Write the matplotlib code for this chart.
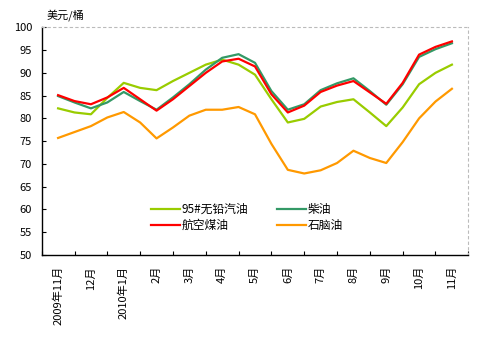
import matplotlib
matplotlib.use("Agg")
import matplotlib.pyplot as plt
import numpy as np

plt.rcParams['font.family'] = ['Noto Sans CJK SC', 'DejaVu Sans']

months = ["2009年11月", "12月", "2010年1月", "2月", "3月", "4月", "5月",
          "6月", "7月", "8月", "9月", "10月", "11月"]
# half-month readings
gasoline = [82.2, 81.3, 80.9, 84.5, 87.8, 86.7, 86.2, 88.2, 90.0, 91.8, 92.9, 91.8, 89.6,
            84.2, 79.1, 79.9, 82.6, 83.6, 84.2, 81.3, 78.3, 82.4, 87.5, 90.0, 91.8]
diesel = [84.9, 83.5, 82.2, 83.5, 85.8, 83.8, 81.9, 84.6, 87.5, 90.7, 93.3, 94.1, 92.2,
          86.0, 81.9, 83.1, 86.2, 87.7, 88.8, 86.0, 83.0, 87.5, 93.5, 95.2, 96.5]
jet = [85.1, 83.8, 83.1, 84.6, 86.7, 84.2, 81.7, 84.2, 87.1, 90.0, 92.5, 93.1, 91.4,
       85.3, 81.3, 82.8, 85.8, 87.2, 88.2, 85.7, 83.2, 87.8, 94.0, 95.7, 96.9]
naphtha = [75.7, 77.0, 78.3, 80.2, 81.4, 79.1, 75.6, 78.0, 80.6, 81.9, 81.9, 82.5, 80.9,
           74.4, 68.7, 67.9, 68.6, 70.2, 72.9, 71.3, 70.2, 74.8, 80.0, 83.7, 86.5]
names = ["95#无铅汽油", "柴油", "航空煤油", "石脑油"]
colors = ["#99CC00", "#339966", "#FF0000", "#FF9900"]

x = np.arange(len(gasoline)) * 0.5

fig = plt.figure(figsize=(4.83, 3.40), dpi=100)
ax = fig.add_axes([0.0863, 0.25, 0.8833, 0.6697])

handles = {}
for name, data, c in zip(names, [gasoline, diesel, jet, naphtha], colors):
    h, = ax.plot(x, data, color=c, lw=1.6, solid_joinstyle='round')
    handles[name] = h

ax.set_xlim(-0.5, len(months) - 0.5)
ax.set_ylim(50, 100)
ax.set_yticks(np.arange(50, 101, 5))
ax.set_xticks(np.arange(len(months)))
ax.set_xticklabels(months, rotation=90, fontsize=8)
ax.set_xticks(np.arange(len(months) + 1) - 0.5, minor=True)
ax.tick_params(axis='x', which='major', length=0, pad=8)
ax.tick_params(axis='x', which='minor', length=3, direction='in', width=0.8)
ax.tick_params(axis='y', length=3, direction='in', width=0.8, labelsize=8, pad=7)

for s in ['top', 'right']:
    ax.spines[s].set_color('#bbbbbb')
    ax.spines[s].set_linestyle((0, (2, 3)))
    ax.spines[s].set_linewidth(0.8)
for s in ['left', 'bottom']:
    ax.spines[s].set_color('black')
    ax.spines[s].set_linewidth(1.0)

order = ["95#无铅汽油", "航空煤油", "柴油", "石脑油"]
ax.legend([handles[n] for n in order], order, ncol=2, frameon=False,
          loc='lower left', bbox_to_anchor=(0.256, 0.10), fontsize=8.5,
          handlelength=2.45, handletextpad=0.15, columnspacing=2.45,
          labelspacing=0.3, borderpad=0, borderaxespad=0)

fig.text(0.097, 0.955, "美元/桶", fontsize=8, ha='left', va='center')

fig.savefig("out.png", dpi=100)
